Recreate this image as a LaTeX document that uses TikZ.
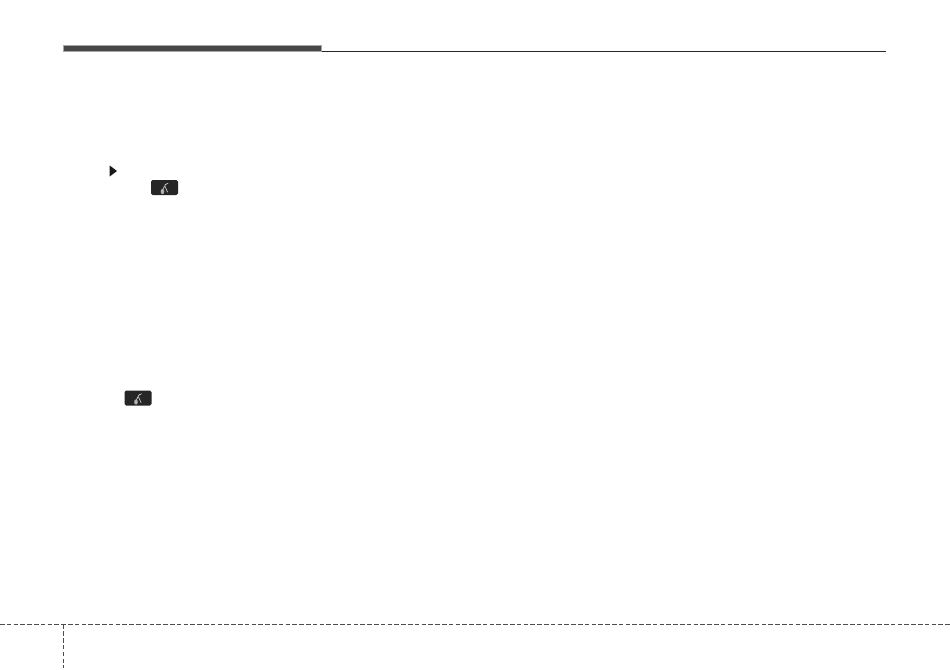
\documentclass[tikz,border=0pt]{standalone}
\tikzset{
  px/.style={x=0.75pt,y=-0.75pt},
  headbar/.style={fill=black!72,draw=black!35,line width=0.4pt},
  headline/.style={draw=black!85,line width=0.7pt},
  foldline/.style={draw=black!70,line width=0.55pt,dash pattern=on 3.4pt off 1.7pt},
  keybox/.style={fill=black!85,rounded corners=1.3pt},
  keyglyph/.style={draw=black!20,line width=0.55pt,line cap=round},
  keyblob/.style={fill=black!30},
  pointer/.style={fill=black!90}
}
\newcommand{\voicekey}[2]{%
  \begin{scope}[shift={(#1,#2)}]
    \fill[keybox] (0,0) rectangle (27,15);
    \draw[keyglyph] (11.5,10) -- (14.5,4.5) -- (17,3.3);
    \draw[keyglyph] (14,6.5) -- (16.5,12);
    \fill[keyblob] (11.5,11.5) ellipse (1.8 and 2.6);
  \end{scope}}
\begin{document}
\begin{tikzpicture}[px]
  \useasboundingbox (0,0) rectangle (950,669);
  \fill[white] (0,0) rectangle (950,669);
  \draw[headline] (321,51) -- (886,51);
  \draw[headbar] (63.5,45) rectangle (321.5,51.5);
  \draw[foldline] (0,624.5) -- (950,624.5);
  \draw[foldline] (63.3,624.5) -- (63.3,668);
  \fill[pointer] (109.7,165.5) -- (117,171) -- (109.7,176.5) -- cycle;
  \voicekey{151}{180}
  \voicekey{124.5}{390.5}
\end{tikzpicture}
\end{document}
